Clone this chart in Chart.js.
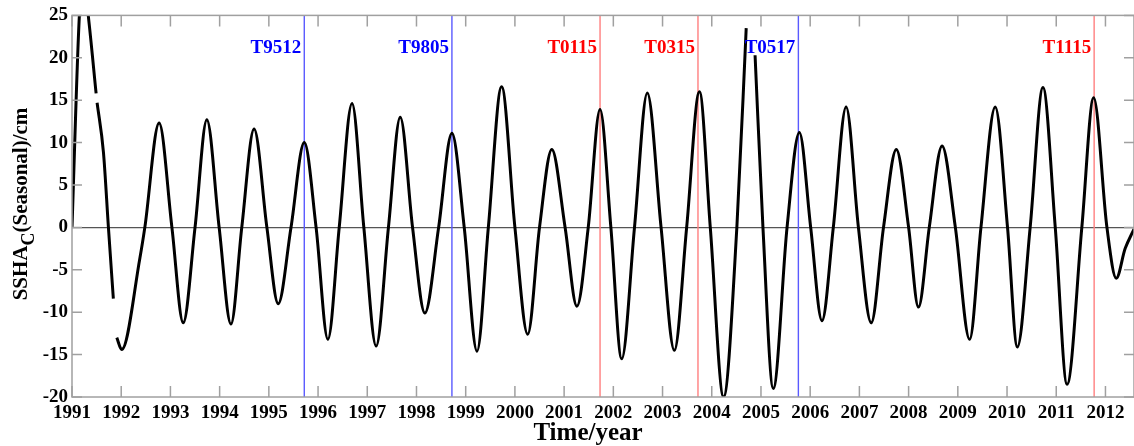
<!DOCTYPE html>
<html>
<head>
<meta charset="utf-8">
<script src="https://cdn.jsdelivr.net/npm/chart.js@4.4.0/dist/chart.umd.min.js"></script>
<style>
  html, body { margin: 0; padding: 0; background: #fff; }
</style>
</head>
<body>
<canvas id="myChart" width="1134" height="446"></canvas>
<script>
// seasonal SSHA curve (null = gap in the record)
const years = [
  1991.00, 1991.15, 1991.23, 1991.33, 1991.49, 1991.50, 1991.51, 1991.64, 1991.74, 1991.84,
  1991.875, 1991.91, 1992.01, 1992.38, 1992.48, 1992.77, 1993.03, 1993.26, 1993.50, 1993.74,
  1993.99, 1994.23, 1994.45, 1994.70, 1994.96, 1995.19, 1995.45, 1995.72, 1995.96, 1996.20,
  1996.43, 1996.69, 1996.93, 1997.18, 1997.43, 1997.67, 1997.92, 1998.17, 1998.45, 1998.72,
  1998.97, 1999.23, 1999.46, 1999.73, 2000.00, 2000.26, 2000.50, 2000.75, 2001.02, 2001.26,
  2001.49, 2001.73, 2001.95, 2002.17, 2002.43, 2002.69, 2002.97, 2003.24, 2003.49, 2003.75,
  2003.97, 2004.24, 2004.51, 2004.70, 2004.79, 2004.88, 2005.04, 2005.25, 2005.53, 2005.78,
  2006.01, 2006.24, 2006.47, 2006.73, 2006.98, 2007.24, 2007.49, 2007.75, 2008.00, 2008.20,
  2008.42, 2008.68, 2008.95, 2009.24, 2009.47, 2009.76, 2010.01, 2010.21, 2010.47, 2010.73,
  2010.98, 2011.22, 2011.52, 2011.76, 2012.03, 2012.22, 2012.40, 2012.58
];
const ssha = [
  0, 25, 29.5, 25, 15.8, null, 14.7, 8.8, 0, -8.4,
  null, -13.0, -14.4, -3.6, 0, 12.3, 0, -11.25, 0, 12.7,
  0, -11.4, 0, 11.6, 0, -9.0, 0, 10.0, 0, -13.2,
  0, 14.6, 0, -14.0, 0, 13.0, 0, -10.1, 0, 11.1,
  0, -14.6, 0, 16.6, 0, -12.6, 0, 9.2, 0, -9.3,
  0, 13.9, 0, -15.5, 0, 15.85, 0, -14.5, 0, 16.0,
  0, -20.0, 0, 23.5, null, 20.3, 0, -19.0, 0, 11.2,
  0, -11.0, 0, 14.2, 0, -11.25, 0, 9.2, 0, -9.4,
  0, 9.6, 0, -13.2, 0, 14.2, 0, -14.1, 0, 16.5,
  0, -18.5, 0, 15.3, 0, -6.0, -2.5, -0.2
];

// marked events
const eventNames = ['T9512', 'T9805', 'T0115', 'T0315', 'T0517', 'T1115'];
const eventYears = [1995.72, 1998.72, 2001.73, 2003.72, 2005.76, 2011.77];
const eventTypes = ['b', 'b', 'r', 'r', 'b', 'r'];

const yearMin = 1991, yearMax = 2012.58;
const yMin = -20, yMax = 25;

const lineColor = { b: '#5a5aff', r: '#ff7f7f' };
const textColor = { b: '#0000ff', r: '#ff0000' };
const serif = "'Liberation Serif', 'Times New Roman', serif";

const curve = years.map((t, i) => ({ x: t, y: ssha[i] }));

const eventSets = eventYears.map((t, i) => ({
  data: [{ x: t, y: yMin }, { x: t, y: yMax }],
  borderColor: lineColor[eventTypes[i]],
  borderWidth: 1.4,
  pointRadius: 0
}));

const framePlugin = {
  id: 'frame',
  afterDatasetsDraw(chart) {
    const { ctx, chartArea: a, scales: { x, y } } = chart;
    ctx.save();
    ctx.strokeStyle = '#a0a0a0';
    ctx.lineWidth = 1.5;
    ctx.strokeRect(a.left, a.top, a.right - a.left, a.bottom - a.top);
    ctx.beginPath();
    x.ticks.forEach(t => {
      const px = x.getPixelForValue(t.value);
      ctx.moveTo(px, a.bottom); ctx.lineTo(px, a.bottom - 11);
      ctx.moveTo(px, a.top); ctx.lineTo(px, a.top + 11);
    });
    y.ticks.forEach(t => {
      const py = y.getPixelForValue(t.value);
      ctx.moveTo(a.left, py); ctx.lineTo(a.left + 10, py);
      ctx.moveTo(a.right, py); ctx.lineTo(a.right - 10, py);
    });
    ctx.stroke();

    // event labels
    ctx.font = 'bold 19px ' + serif;
    ctx.textAlign = 'right';
    ctx.textBaseline = 'alphabetic';
    eventNames.forEach((name, i) => {
      ctx.fillStyle = textColor[eventTypes[i]];
      ctx.fillText(name, x.getPixelForValue(eventYears[i]) - 3, 53);
    });
    ctx.restore();
  },
  afterDraw(chart) {
    const { ctx } = chart;
    ctx.save();
    ctx.fillStyle = '#000';
    // x title
    ctx.font = 'bold 25px ' + serif;
    ctx.textAlign = 'center';
    ctx.textBaseline = 'alphabetic';
    ctx.fillText('Time/year', 588, 440);

    // y title with subscript C
    const main = 'bold 21px ' + serif, sub = 'bold 18px ' + serif;
    ctx.font = main;
    const w1 = ctx.measureText('SSHA').width;
    const w3 = ctx.measureText('(Seasonal)/cm').width;
    ctx.font = sub;
    const w2 = ctx.measureText('C').width;
    const total = w1 + w2 + w3;
    ctx.translate(27, 204);
    ctx.rotate(-Math.PI / 2);
    ctx.textAlign = 'left';
    let cx = -total / 2;
    ctx.font = main;
    ctx.fillText('SSHA', cx, 0);
    cx += w1;
    ctx.font = sub;
    ctx.fillText('C', cx, 7);
    cx += w2;
    ctx.font = main;
    ctx.fillText('(Seasonal)/cm', cx, 0);
    ctx.restore();
  }
};

const ctx = document.getElementById('myChart');

new Chart(ctx, {
  type: 'line',
  data: {
    datasets: [{
      data: curve,
      borderColor: '#000',
      borderWidth: 3,
      pointRadius: 0,
      cubicInterpolationMode: 'monotone',
      spanGaps: false
    }].concat(eventSets)
  },
  options: {
    responsive: false,
    animation: false,
    layout: { padding: { top: 12, right: 0, left: 0, bottom: 0 } },
    plugins: { legend: { display: false }, tooltip: { enabled: false } },
    scales: {
      x: {
        type: 'linear',
        min: yearMin,
        max: yearMax,
        afterFit(scale) { scale.height = 49; },
        grid: { display: false, drawTicks: false },
        border: { display: false },
        ticks: {
          stepSize: 1,
          includeBounds: false,
          maxRotation: 0,
          autoSkip: false,
          padding: 5,
          color: '#000',
          font: { family: serif, size: 19, weight: 'bold' },
          callback: v => String(v)
        }
      },
      y: {
        min: yMin,
        max: yMax,
        afterFit(scale) { scale.width = 72; },
        grid: {
          drawTicks: false,
          color: c => c.tick && c.tick.value === 0 ? '#555' : 'rgba(0,0,0,0)',
          lineWidth: 1.2
        },
        border: { display: false },
        ticks: {
          stepSize: 5,
          padding: 4,
          color: '#000',
          font: { family: serif, size: 19, weight: 'bold' }
        }
      }
    }
  },
  plugins: [framePlugin]
});
</script>
</body>
</html>
